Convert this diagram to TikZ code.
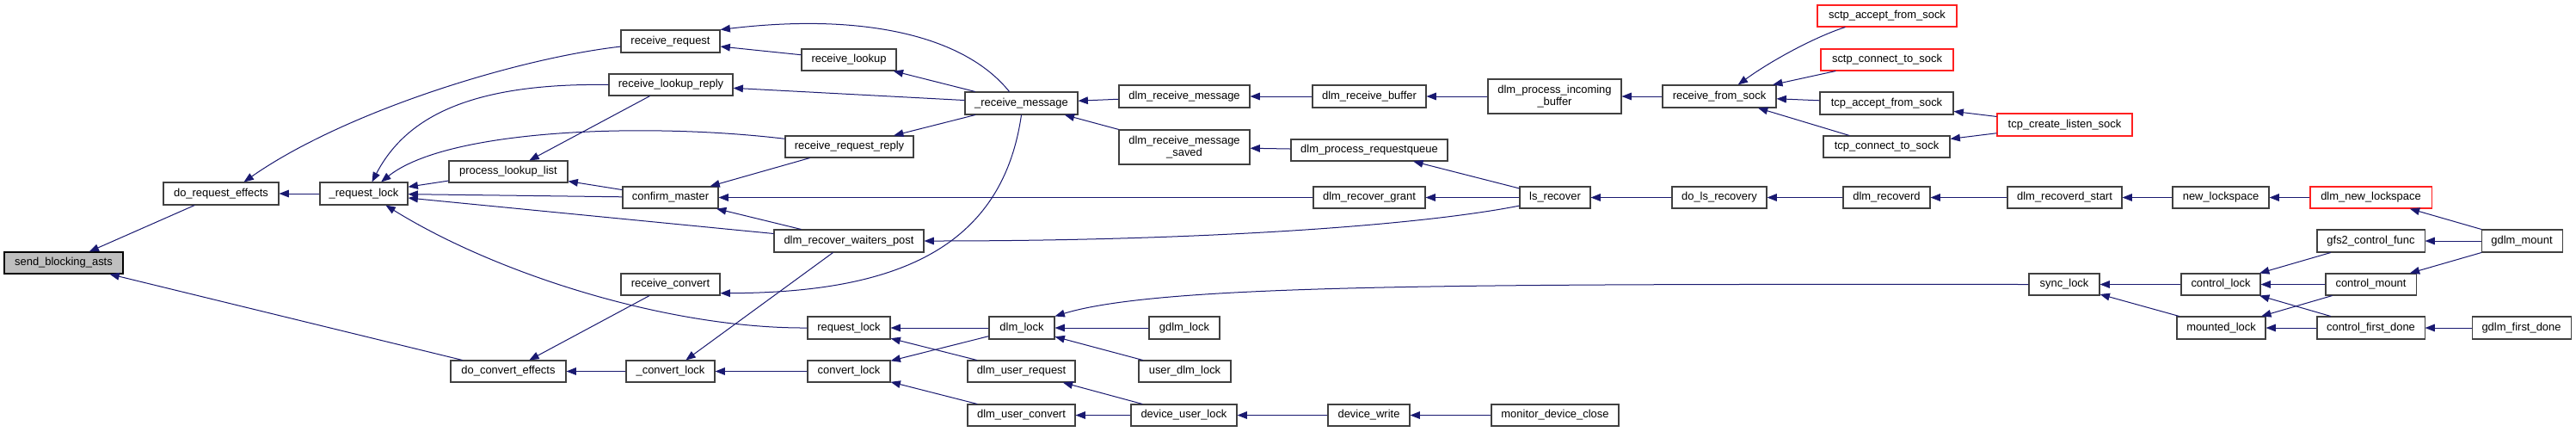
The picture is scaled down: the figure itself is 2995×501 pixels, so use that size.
\documentclass[tikz,border=0pt]{standalone}
\usepackage{fontspec}
\setmainfont{Liberation Sans}
\usetikzlibrary{arrows.meta}
\definecolor{edgeblue}{HTML}{191970}
\definecolor{boxline}{HTML}{404040}
\definecolor{redline}{HTML}{FF2020}
\definecolor{grayfill}{HTML}{BFBFBF}
\newcommand\callnode[7][]{%
  \pgfmathsetmacro\cnw{(#5-#3)*0.75}%
  \pgfmathsetmacro\cnh{(#6-#4)*0.75}%
  \node[fn,#1,minimum width=\cnw pt,minimum height=\cnh pt] (#2) at ({(#3+#5)/2},{(#4+#6)/2}) {#7};}
\begin{document}
\begin{tikzpicture}[x=0.75pt,y=-0.75pt,
  fn/.style={draw=boxline,fill=white,line width=0.8pt,inner sep=0pt,align=center,
    font=\fontsize{9.7}{10}\selectfont},
  rednode/.style={draw=redline},
  graynode/.style={fill=grayfill,draw=black},
  edge/.style={draw=edgeblue,line width=0.75pt,-{Triangle[length=8.5pt,width=6.5pt,fill=edgeblue]}}]
\fill[white] (0,0) rectangle (2995,501);
\useasboundingbox (0,0) rectangle (2995,501);
\callnode[graynode]{sba}{5}{293}{143}{318}{send\_blocking\_asts}
\callnode{dre}{190}{212}{324}{238}{do\_request\_effects}
\callnode{rql}{372}{212}{474}{238}{\_request\_lock}
\callnode{dce}{524}{419}{658}{444}{do\_convert\_effects}
\callnode{rreq}{722}{35}{837}{61}{receive\_request}
\callnode{rlr}{708}{86}{852}{111}{receive\_lookup\_reply}
\callnode{pll}{522}{187}{660}{212}{process\_lookup\_list}
\callnode{cm}{724}{217}{835}{242}{confirm\_master}
\callnode{rlk}{932}{57}{1042}{82}{receive\_lookup}
\callnode{rrr}{913}{158}{1062}{183}{receive\_request\_reply}
\callnode{drwp}{900}{267}{1074}{293}{dlm\_recover\_waiters\_post}
\callnode{rcv}{722}{318}{837}{343}{receive\_convert}
\callnode{reql}{939}{368}{1035}{394}{request\_lock}
\callnode{cvl}{728}{419}{831}{444}{\_convert\_lock}
\callnode{cnvl}{939}{419}{1035}{444}{convert\_lock}
\callnode{rmsg}{1122}{107}{1253}{133}{\_receive\_message}
\callnode{drm}{1301}{99}{1453}{125}{dlm\_receive\_message}
\callnode{drms}{1301}{151}{1453}{191}{dlm\_receive\_message\\\_saved}
\callnode{dlk}{1150}{368}{1226}{394}{dlm\_lock}
\callnode{gdlk}{1336}{368}{1418}{394}{gdlm\_lock}
\callnode{udl}{1324}{419}{1431}{444}{user\_dlm\_lock}
\callnode{dur}{1125}{419}{1250}{444}{dlm\_user\_request}
\callnode{duc}{1125}{470}{1250}{495}{dlm\_user\_convert}
\callnode{dul}{1315}{470}{1438}{495}{device\_user\_lock}
\callnode{drb}{1526}{99}{1658}{125}{dlm\_receive\_buffer}
\callnode{dpib}{1730}{92}{1885}{132}{dlm\_process\_incoming\\\_buffer}
\callnode{dprq}{1501}{162}{1683}{187}{dlm\_process\_requestqueue}
\callnode{drg}{1527}{217}{1657}{242}{dlm\_recover\_grant}
\callnode{lsr}{1767}{217}{1849}{242}{ls\_recover}
\callnode{dlsr}{1944}{217}{2054}{242}{do\_ls\_recovery}
\callnode{rfs}{1933}{99}{2065}{125}{receive\_from\_sock}
\callnode{dw}{1544}{470}{1639}{495}{device\_write}
\callnode{mdc}{1734}{470}{1882}{495}{monitor\_device\_close}
\callnode[rednode]{safs}{2113}{6}{2275}{31}{sctp\_accept\_from\_sock}
\callnode[rednode]{scts}{2117}{57}{2271}{82}{sctp\_connect\_to\_sock}
\callnode{tafs}{2116}{107}{2271}{133}{tcp\_accept\_from\_sock}
\callnode{tcts}{2120}{158}{2267}{183}{tcp\_connect\_to\_sock}
\callnode[rednode]{tcls}{2322}{132}{2479}{158}{tcp\_create\_listen\_sock}
\callnode{drd}{2143}{217}{2244}{242}{dlm\_recoverd}
\callnode{drds}{2334}{217}{2467}{242}{dlm\_recoverd\_start}
\callnode{snl}{2359}{318}{2441}{343}{sync\_lock}
\callnode{nls}{2526}{217}{2638}{242}{new\_lockspace}
\callnode[rednode]{dnls}{2686}{217}{2827}{242}{dlm\_new\_lockspace}
\callnode{gcf}{2694}{267}{2819}{293}{gfs2\_control\_func}
\callnode{gm}{2885}{267}{2979}{293}{gdlm\_mount}
\callnode{ctl}{2536}{318}{2628}{343}{control\_lock}
\callnode{cmt}{2704}{318}{2809}{343}{control\_mount}
\callnode{mtl}{2531}{368}{2634}{394}{mounted\_lock}
\callnode{cfd}{2694}{368}{2819}{394}{control\_first\_done}
\callnode{gfd}{2874}{368}{2989}{394}{gdlm\_first\_done}
% edges
\draw[edge] (dre) -- (sba);
\draw[edge] (dce) -- (sba);
\draw[edge] (rql) -- (dre);
\draw[edge] (rreq.186) .. controls (600,68) and (400,130) .. (dre.27);
\draw[edge] (rlr.west) .. controls (540,96) and (470,140) .. (rql.55);
\draw[edge] (rrr.173) .. controls (750,142) and (520,150) .. (rql.34);
\draw[edge] (pll) -- (rql);
\draw[edge] (cm) -- (rql);
\draw[edge] (drwp) -- (rql);
\draw[edge] (reql.west) .. controls (780,382) and (580,320) .. (rql.-28);
\draw[edge] (rmsg.136) .. controls (1120,40) and (1000,15) .. (rreq.north east);
\draw[edge] (rlk) -- (rreq);
\draw[edge] (rmsg) -- (rlk);
\draw[edge] (rmsg) -- (rlr);
\draw[edge] (rmsg) -- (rrr);
\draw[edge] (rmsg.south) .. controls (1165,290) and (1040,340) .. (rcv.-10);
\draw[edge] (rrr) -- (cm);
\draw[edge] (drg) -- (cm);
\draw[edge] (drwp) -- (cm);
\draw[edge] (rlr) -- (pll);
\draw[edge] (cm) -- (pll);
\draw[edge] (rcv) -- (dce);
\draw[edge] (cvl) -- (dce);
\draw[edge] (drwp) -- (cvl);
\draw[edge] (cnvl) -- (cvl);
\draw[edge] (dlk) -- (reql);
\draw[edge] (dur) -- (reql);
\draw[edge] (dlk) -- (cnvl);
\draw[edge] (duc) -- (cnvl);
\draw[edge] (snl.west) .. controls (1700,330) and (1350,330) .. (dlk.north east);
\draw[edge] (gdlk) -- (dlk);
\draw[edge] (udl) -- (dlk);
\draw[edge] (dul) -- (dur);
\draw[edge] (dul) -- (duc);
\draw[edge] (dw) -- (dul);
\draw[edge] (mdc) -- (dw);
\draw[edge] (drm) -- (rmsg);
\draw[edge] (drms) -- (rmsg);
\draw[edge] (drb) -- (drm);
\draw[edge] (dprq) -- (drms);
\draw[edge] (dpib) -- (drb);
\draw[edge] (rfs) -- (dpib);
\draw[edge] (lsr) -- (dprq);
\draw[edge] (lsr) -- (drg);
\draw[edge] (lsr.193) .. controls (1650,262) and (1400,280) .. (drwp.east);
\draw[edge] (dlsr) -- (lsr);
\draw[edge] (drd) -- (dlsr);
\draw[edge] (drds) -- (drd);
\draw[edge] (nls) -- (drds);
\draw[edge] (dnls) -- (nls);
\draw[edge] (gm) -- (dnls);
\draw[edge] (safs.195) .. controls (2110,43) and (2060,70) .. (rfs.32);
\draw[edge] (scts) -- (rfs);
\draw[edge] (tafs) -- (rfs);
\draw[edge] (tcts) -- (rfs);
\draw[edge] (tcls) -- (tafs);
\draw[edge] (tcls) -- (tcts);
\draw[edge] (ctl) -- (snl);
\draw[edge] (mtl) -- (snl);
\draw[edge] (gcf) -- (ctl);
\draw[edge] (cmt) -- (ctl);
\draw[edge] (cfd) -- (ctl);
\draw[edge] (cmt) -- (mtl);
\draw[edge] (cfd) -- (mtl);
\draw[edge] (gm) -- (gcf);
\draw[edge] (gm) -- (cmt);
\draw[edge] (gfd) -- (cfd);
\end{tikzpicture}
\end{document}
